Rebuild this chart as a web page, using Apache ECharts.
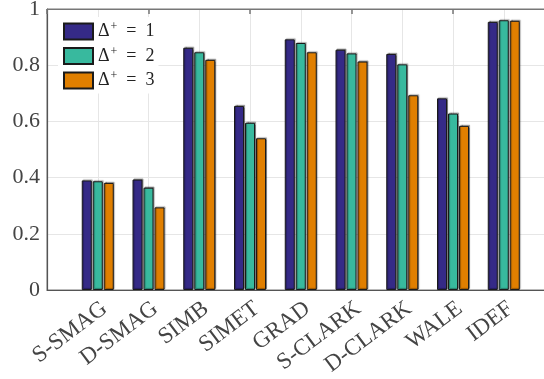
<!DOCTYPE html>
<html><head><meta charset="utf-8">
<script src="https://cdn.jsdelivr.net/npm/echarts@6/dist/echarts.min.js"></script>
<style>html,body{margin:0;padding:0;background:#fff}#c{width:544px;height:379px}</style>
</head><body><div id="c"></div>
<script>
const categories = ['S-SMAG','D-SMAG','SIMB','SIMET','GRAD','S-CLARK','D-CLARK','WALE','IDEF'];
const seriesNames = ['Δ+ = 1','Δ+ = 2','Δ+ = 3'];
const d1 = [0.390,0.393,0.862,0.655,0.892,0.855,0.840,0.682,0.954];
const d2 = [0.387,0.364,0.846,0.595,0.879,0.842,0.803,0.628,0.960];
const d3 = [0.381,0.294,0.819,0.540,0.846,0.813,0.693,0.584,0.958];
const yTicks = [0,0.2,0.4,0.6,0.8,1];
const colors = ['#352a87','#38b99e','#e07f00'];

const cats = [''].concat(categories, ['']);
const pad = arr => [null].concat(arr, [null]);
const font = 'Liberation Serif';
const chart = echarts.init(document.getElementById('c'));
const mk = (name, data, i) => ({
  name, type: 'bar', data: pad(data), barWidth: 10, barGap: '10%',
  itemStyle: { color: colors[i], borderColor: '#1a1a1a', borderWidth: 1,
    shadowColor: 'rgba(0,0,0,0.35)', shadowBlur: 1, shadowOffsetX: 1, shadowOffsetY: -1 }
});
chart.setOption({
  animation: false,
  grid: { left: 47, top: 9, height: 281, width: 507.5, outerBoundsMode: 'none', containLabel: false,
    show: true, borderColor: '#777', borderWidth: 1, backgroundColor: 'transparent' },
  legend: {
    left: 58, top: 17, orient: 'vertical', itemWidth: 29, itemHeight: 16, itemGap: 5,
    icon: 'rect',
    backgroundColor: '#fff', padding: [4, 4, 4, 5],
    data: seriesNames,
    formatter: n => '{a|Δ}{s|+}{a|\u2002=\u2002' + n.slice(-1) + '}',
    textStyle: { rich: {
      a: { fontFamily: font, fontSize: 18, color: '#222' },
      s: { fontFamily: font, fontSize: 12, color: '#222', padding: [0, 0, 9, 1] }
    } }
  },
  xAxis: [{
    type: 'category', data: cats, boundaryGap: false,
    axisLine: { lineStyle: { color: '#555', width: 1.2 } },
    axisTick: { show: false },
    splitLine: { show: true, lineStyle: { color: '#e6e6e6' } },
    axisLabel: { interval: 0, rotate: 37, margin: 7, fontFamily: font, fontSize: 23, color: '#444',
      align: 'right', verticalAlign: 'top' }
  }, {
    type: 'category', data: cats, boundaryGap: false, position: 'top',
    axisLine: { show: true, lineStyle: { color: '#777' } },
    axisTick: { show: true, inside: true, length: 5, lineStyle: { color: '#777', width: 1.5 } },
    axisLabel: { show: false }, splitLine: { show: false }
  }],
  yAxis: {
    type: 'value', min: 0, max: 1, interval: 0.2,
    axisLine: { show: true, lineStyle: { color: '#555', width: 1.2 } },
    axisTick: { show: false },
    splitLine: { lineStyle: { color: '#e6e6e6' } },
    axisLabel: { margin: 7, fontFamily: font, fontSize: 22, color: '#444',
      formatter: v => yTicks.includes(Math.round(v*10)/10) ? String(Math.round(v*10)/10) : '' }
  },
  series: [mk(seriesNames[0], d1, 0), mk(seriesNames[1], d2, 1), mk(seriesNames[2], d3, 2)]
});
</script></body></html>
